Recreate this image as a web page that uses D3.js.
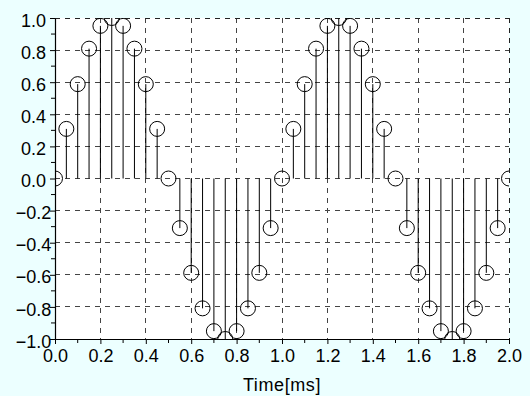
<!DOCTYPE html>
<html>
<head>
<meta charset="utf-8">
<script src="https://cdn.jsdelivr.net/npm/d3@7"></script>
<style>
  html, body { margin: 0; padding: 0; background: #ecffff; }
  svg { display: block; }
  text { font-family: "Liberation Sans", Arial, Helvetica, sans-serif; fill: #000; }
</style>
</head>
<body>
<svg id="chart" width="530" height="396"></svg>
<script>
// Sampled 1 kHz sine, 0.05 ms sample period
const timeMs = [0.00, 0.05, 0.10, 0.15, 0.20, 0.25, 0.30, 0.35, 0.40, 0.45,
                0.50, 0.55, 0.60, 0.65, 0.70, 0.75, 0.80, 0.85, 0.90, 0.95,
                1.00, 1.05, 1.10, 1.15, 1.20, 1.25, 1.30, 1.35, 1.40, 1.45,
                1.50, 1.55, 1.60, 1.65, 1.70, 1.75, 1.80, 1.85, 1.90, 1.95,
                2.00];
const amplitude = [0, 0.309, 0.588, 0.809, 0.951, 1.0, 0.951, 0.809, 0.588, 0.309,
                   0, -0.309, -0.588, -0.809, -0.951, -1.0, -0.951, -0.809, -0.588, -0.309,
                   0, 0.309, 0.588, 0.809, 0.951, 1.0, 0.951, 0.809, 0.588, 0.309,
                   0, -0.309, -0.588, -0.809, -0.951, -1.0, -0.951, -0.809, -0.588, -0.309,
                   0];
const xMajorTicks = [0.0, 0.2, 0.4, 0.6, 0.8, 1.0, 1.2, 1.4, 1.6, 1.8, 2.0];
const xMinorTicks = [0.1, 0.3, 0.5, 0.7, 0.9, 1.1, 1.3, 1.5, 1.7, 1.9];
const yMajorTicks = [-1.0, -0.8, -0.6, -0.4, -0.2, 0.0, 0.2, 0.4, 0.6, 0.8, 1.0];
const yMinorTicks = [-0.9, -0.7, -0.5, -0.3, -0.1, 0.1, 0.3, 0.5, 0.7, 0.9];
const xTitle = "Time[ms]";

const W = 530, H = 396;
const margin = { left: 55, right: 21, top: 18, bottom: 57 };
const pw = W - margin.left - margin.right;
const ph = H - margin.top - margin.bottom;

const svg = d3.select("#chart");
const x = d3.scaleLinear().domain([0, 2]).range([0, pw]);
const y = d3.scaleLinear().domain([-1, 1]).range([ph, 0]);
const fmt = d3.format(".1f");

svg.append("defs").append("clipPath").attr("id", "plotClip")
  .append("rect").attr("width", pw).attr("height", ph);

const g = svg.append("g").attr("transform", `translate(${margin.left},${margin.top})`);

// Plot area
g.append("rect").attr("width", pw).attr("height", ph).attr("fill", "#fff");

// Dashed grid
const grid = g.append("g").attr("stroke", "#444").attr("stroke-width", 1)
  .attr("stroke-dasharray", "5,5").attr("shape-rendering", "crispEdges");
grid.selectAll(".gx").data(xMajorTicks.filter(d => d > 0)).join("line")
  .attr("x1", d => x(d)).attr("x2", d => x(d)).attr("y1", 0).attr("y2", ph)
  .attr("stroke", d => d === 2 ? "#222" : null);
grid.selectAll(".gy").data(yMajorTicks.filter(d => d > -1)).join("line")
  .attr("x1", 0).attr("x2", pw).attr("y1", d => y(d)).attr("y2", d => y(d))
  .attr("stroke", d => d === 1 ? "#222" : null);

// Stems and markers
const data = timeMs.map((t, i) => ({ t, v: amplitude[i] }));
const marks = g.append("g").attr("clip-path", "url(#plotClip)");
marks.selectAll("line.stem").data(data).join("line").attr("class", "stem")
  .attr("x1", d => x(d.t)).attr("x2", d => x(d.t))
  .attr("y1", y(0)).attr("y2", d => y(d.v))
  .attr("stroke", "#000").attr("stroke-width", 1);
marks.selectAll("circle").data(data).join("circle")
  .attr("cx", d => x(d.t)).attr("cy", d => y(d.v)).attr("r", 7.5)
  .attr("fill", "none").attr("stroke", "#000").attr("stroke-width", 1);

// Axes
const xAxis = g.append("g").attr("transform", `translate(0,${ph})`)
  .call(d3.axisBottom(x).tickValues(xMajorTicks).tickFormat(fmt)
    .tickSize(5).tickSizeOuter(0).tickPadding(5));
xAxis.append("g").selectAll("line").data(xMinorTicks).join("line")
  .attr("x1", d => x(d)).attr("x2", d => x(d)).attr("y1", 0).attr("y2", 4)
  .attr("stroke", "#000");

const yAxis = g.append("g")
  .call(d3.axisLeft(y).tickValues(yMajorTicks).tickFormat(fmt)
    .tickSize(5).tickSizeOuter(0));
yAxis.append("g").selectAll("line").data(yMinorTicks).join("line")
  .attr("x1", 0).attr("x2", -4).attr("y1", d => y(d)).attr("y2", d => y(d))
  .attr("stroke", "#000");
yAxis.selectAll(".tick text")
  .attr("x", -21.5).attr("dy", "0.45em").attr("text-anchor", "middle");

[xAxis, yAxis].forEach(a => {
  a.select(".domain").attr("stroke", "#000").attr("stroke-width", 1.2);
  a.selectAll(".tick line").attr("stroke", "#000");
  a.selectAll("text").attr("font-size", 18)
    .attr("font-family", "'Liberation Sans', Arial, sans-serif").attr("fill", "#000");
});

// Axis title
svg.append("text").attr("x", margin.left + pw / 2).attr("y", 391)
  .attr("text-anchor", "middle").attr("font-size", 18)
  .attr("letter-spacing", "0.6px").text(xTitle);
</script>
</body>
</html>
